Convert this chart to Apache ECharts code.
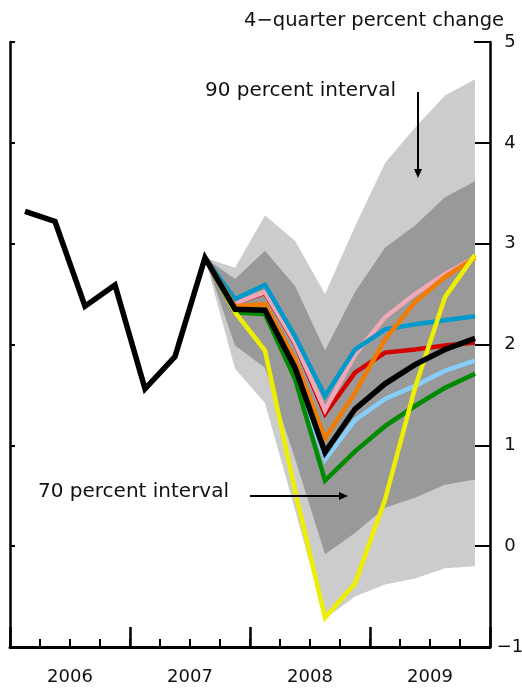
<!DOCTYPE html>
<html>
<head>
<meta charset="utf-8">
<script src="https://cdn.jsdelivr.net/npm/echarts@6/dist/echarts.min.js"></script>
<style>
html,body{margin:0;padding:0;background:#fff;}
#chart{width:522px;height:690px;}
</style>
</head>
<body>
<div id="chart"></div>
<script>
// ---- Data ----
const quarters = ['2006Q1','2006Q2','2006Q3','2006Q4','2007Q1','2007Q2','2007Q3','2007Q4',
                  '2008Q1','2008Q2','2008Q3','2008Q4','2009Q1','2009Q2','2009Q3','2009Q4'];
const years = ['2006','2007','2008','2009'];
const yMin = -1, yMax = 5, yStep = 1;

const baseline   = [3.32, 3.22, 2.38, 2.59, 1.56, 1.88, 2.86, 2.35, 2.34, 1.77, 0.93, 1.36, 1.61, 1.80, 1.95, 2.06];
const blueAlt    = [null, null, null, null, null, null, 2.86, 2.45, 2.59, 2.08, 1.49, 1.95, 2.15, 2.20, 2.24, 2.28];
const pinkAlt    = [null, null, null, null, null, null, 2.86, 2.41, 2.52, 2.02, 1.35, 1.90, 2.27, 2.50, 2.70, 2.86];
const redAlt     = [null, null, null, null, null, null, 2.86, 2.41, 2.51, 2.01, 1.31, 1.72, 1.92, 1.95, 1.99, 2.02];
const orangeAlt  = [null, null, null, null, null, null, 2.86, 2.38, 2.40, 1.85, 1.07, 1.52, 2.05, 2.42, 2.67, 2.86];
const ltBlueAlt  = [null, null, null, null, null, null, 2.86, 2.35, 2.34, 1.72, 0.86, 1.25, 1.46, 1.59, 1.74, 1.84];
const greenAlt   = [null, null, null, null, null, null, 2.86, 2.32, 2.30, 1.66, 0.65, 0.94, 1.19, 1.39, 1.57, 1.71];
const yellowAlt  = [null, null, null, null, null, null, 2.86, 2.32, 1.94, 0.55, -0.71, -0.37, 0.46, 1.57, 2.47, 2.89];

const upper90 = [null, null, null, null, null, null, 2.86, 2.76, 3.28, 3.03, 2.50, 3.17, 3.80, 4.15, 4.47, 4.63];
const lower90 = [null, null, null, null, null, null, 2.86, 1.76, 1.42, 0.36, -0.72, -0.50, -0.38, -0.32, -0.22, -0.20];
const upper70 = [null, null, null, null, null, null, 2.86, 2.65, 2.93, 2.58, 1.94, 2.52, 2.96, 3.18, 3.46, 3.62];
const lower70 = [null, null, null, null, null, null, 2.86, 1.99, 1.77, 0.87, -0.08, 0.13, 0.38, 0.48, 0.61, 0.66];

const titleText = '4\u2212quarter percent change';
const note90 = '90 percent interval';
const note70 = '70 percent interval';

// ---- Build ----
const FONT = 'DejaVu Sans';
function width(hi, lo){ return hi.map((v,i)=> v==null ? null : +(v - lo[i]).toFixed(4)); }

function band(name, lo, hi, color){
  return [
    {name: name+'lo', type:'line', data: lo, stack: name, stackStrategy:'all', symbol:'none',
     lineStyle:{width:0, opacity:0}, silent:true, xAxisIndex:0, yAxisIndex:0},
    {name: name+'hi', type:'line', data: width(hi, lo), stack: name, stackStrategy:'all', symbol:'none',
     lineStyle:{width:0, opacity:0}, areaStyle:{color: color, opacity:1}, silent:true, xAxisIndex:0, yAxisIndex:0}
  ];
}
function line(name, data, color, w){
  return {name, type:'line', data, symbol:'none', smooth:false, connectNulls:false,
          lineStyle:{color, width:w, join:'miter', cap:'butt'}, xAxisIndex:0, yAxisIndex:0, silent:true};
}

const series = [].concat(
  band('b90', lower90, upper90, '#cccccc'),
  band('b70', lower70, upper70, '#999999'),
  [
    line('red', redAlt, '#d40000', 4.5),
    line('pink', pinkAlt, '#efa8b6', 4.5),
    line('blue', blueAlt, '#0099cc', 4.5),
    line('orange', orangeAlt, '#f27c00', 4.5),
    line('ltblue', ltBlueAlt, '#87cefa', 4.5),
    line('green', greenAlt, '#008a00', 4.5),
    line('yellow', yellowAlt, '#eeee00', 4.5),
    line('baseline', baseline, '#000000', 5.5)
  ]
);

const chart = echarts.init(document.getElementById('chart'), null, {renderer:'canvas'});
chart.setOption({
  animation:false,
  backgroundColor:'#ffffff',
  title:{text: titleText, right: 13, top: 6,
         textStyle:{fontFamily:FONT, fontSize:19.5, fontWeight:'normal', color:'#111'}},
  grid:{left:10, right:32, top:42, bottom:43, containLabel:false, outerBoundsMode:'none'},
  xAxis:[
    {type:'category', data: quarters, boundaryGap:true, position:'bottom',
     axisLine:{show:true, onZero:false, lineStyle:{color:'#000', width:3}},
     axisTick:{show:true, inside:true, length:8, interval:0, lineStyle:{color:'#000', width:2}},
     axisLabel:{show:false}, splitLine:{show:false}},
    {type:'category', data: years, boundaryGap:true, position:'bottom',
     axisLine:{show:false, onZero:false},
     axisTick:{show:true, inside:true, length:20, interval:0, lineStyle:{color:'#000', width:2.5}},
     axisLabel:{show:true, margin:21, fontFamily:FONT, fontSize:18, color:'#111'},
     splitLine:{show:false}}
  ],
  yAxis:[
    {type:'value', position:'right', min:yMin, max:yMax, interval:yStep,
     axisLine:{show:true, onZero:false, lineStyle:{color:'#000', width:2.5}},
     axisTick:{show:true, inside:true, length:16, lineStyle:{color:'#000', width:2}},
     axisLabel:{show:true, margin:20, align:'center', fontFamily:FONT, fontSize:18, color:'#111',
       formatter: v => v < 0 ? '\u2212' + Math.abs(v) : String(v)},
     splitLine:{show:false}},
    {type:'value', position:'left', min:yMin, max:yMax, interval:yStep,
     axisLine:{show:true, onZero:false, lineStyle:{color:'#000', width:2.5}},
     axisTick:{show:true, inside:true, length:5, lineStyle:{color:'#000', width:2}},
     axisLabel:{show:false}, splitLine:{show:false}}
  ],
  series,
  graphic:[
    {type:'text', left:205, top:81, z:100,
     style:{text: note90, fontFamily:FONT, fontSize:20, fill:'#111'}},
    {type:'line', z:100, shape:{x1:418, y1:92, x2:418, y2:171}, style:{stroke:'#000', lineWidth:2}},
    {type:'polygon', z:100, shape:{points:[[414,169],[422,169],[418,178]]}, style:{fill:'#000'}},
    {type:'text', left:38, top:482, z:100,
     style:{text: note70, fontFamily:FONT, fontSize:20, fill:'#111'}},
    {type:'line', z:100, shape:{x1:250, y1:496, x2:341, y2:496}, style:{stroke:'#000', lineWidth:2}},
    {type:'polygon', z:100, shape:{points:[[339,492],[339,500],[348,496]]}, style:{fill:'#000'}}
  ]
});
</script>
</body>
</html>
